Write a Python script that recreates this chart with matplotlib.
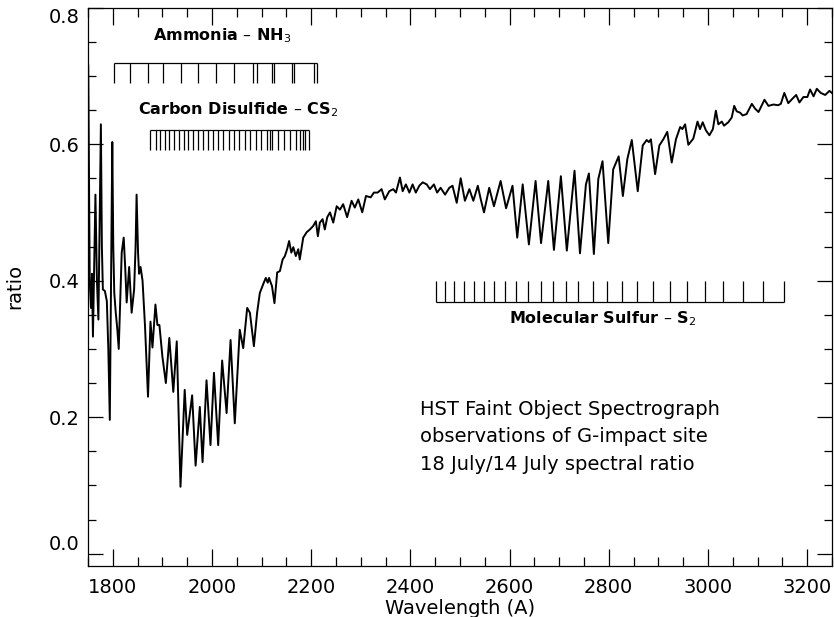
import matplotlib
matplotlib.use("Agg")
import matplotlib.pyplot as plt
from matplotlib.ticker import MultipleLocator

# spectrum: 18 July / 14 July ratio
wavelength = [
    1750.5, 1752, 1753.5, 1756, 1758, 1760, 1762.5, 1765, 1768, 1771, 1773.5, 1776,
    1778, 1780, 1784, 1788, 1791, 1794, 1796.5, 1799, 1801, 1803, 1806, 1809, 1812,
    1815, 1818, 1822, 1825, 1828, 1833, 1838, 1843, 1846, 1848, 1851, 1853, 1856,
    1860, 1865, 1871, 1876, 1880, 1886, 1890, 1894, 1900, 1907, 1914, 1922, 1929,
    1936.5, 1945, 1950, 1960, 1967, 1975.5, 1981, 1989, 1997, 2004, 2012.5, 2020.5,
    2029.5, 2037.5, 2046, 2056, 2063, 2071, 2076.5, 2084.5, 2091, 2096.5, 2104.5,
    2108.5, 2112.5, 2115, 2121, 2126, 2131.5, 2137, 2142.5, 2147, 2151.5, 2155.5,
    2160, 2164, 2169, 2174, 2177, 2184, 2191, 2197.5, 2204, 2209.5, 2213.5, 2217.5,
    2223, 2227.5, 2232.5, 2238, 2244.5, 2251.5, 2258, 2264.5, 2272.5, 2281.5, 2288,
    2295, 2303, 2310.5, 2320, 2326.5, 2334, 2342, 2348.5, 2357.5, 2365.5, 2371,
    2379, 2384.5, 2391, 2398, 2404.5, 2411, 2418, 2425, 2433, 2439.5, 2447.5, 2454,
    2461, 2470, 2478.5, 2485, 2493.5, 2501.5, 2510, 2519, 2527, 2536, 2542, 2548.5,
    2559, 2568.5, 2582, 2593, 2606, 2615.5, 2626.5, 2639, 2652.5, 2663.5, 2678,
    2689.5, 2703.5, 2715.5, 2731, 2742, 2754, 2760, 2770, 2779, 2787.5, 2799, 2809,
    2820, 2828.5, 2837.5, 2846.5, 2858.5, 2868.5, 2876.5, 2881, 2885, 2893.5, 2902,
    2910, 2918, 2927, 2935.5, 2944, 2948.5, 2954, 2960.5, 2970.5, 2979, 2984,
    2989.5, 2996, 3003, 3010, 3016, 3021, 3028, 3032.5, 3041, 3048, 3053, 3058,
    3065, 3070, 3078, 3088.5, 3095, 3102, 3114, 3122, 3132, 3141.5, 3147, 3154,
    3162, 3171, 3178, 3184.5, 3192.5, 3200.5, 3206, 3213, 3219.5, 3227.5, 3236.5,
    3245, 3250,
]
ratio = [
    0.715, 0.55, 0.40, 0.36, 0.41, 0.318, 0.42, 0.526, 0.40, 0.343, 0.48, 0.629,
    0.45, 0.387, 0.385, 0.37, 0.30, 0.196, 0.40, 0.603, 0.45, 0.382, 0.353, 0.33, 0.30,
    0.37, 0.441, 0.463, 0.42, 0.368, 0.42, 0.353, 0.387, 0.45, 0.526, 0.44, 0.41, 0.42,
    0.40, 0.333, 0.23, 0.340, 0.302, 0.365, 0.335, 0.335, 0.289, 0.25, 0.316, 0.237, 0.311,
    0.098, 0.24, 0.174, 0.232, 0.129, 0.215, 0.134, 0.254, 0.159, 0.265, 0.159, 0.283,
    0.206, 0.313, 0.191, 0.328, 0.301, 0.36, 0.353, 0.304, 0.353, 0.382, 0.397,
    0.404, 0.397, 0.404, 0.392, 0.367, 0.412, 0.414, 0.431, 0.436, 0.446, 0.458,
    0.441, 0.449, 0.436, 0.446, 0.431, 0.463, 0.471, 0.475, 0.480, 0.487, 0.465, 0.485,
    0.49, 0.475, 0.493, 0.50, 0.485, 0.509, 0.504, 0.512, 0.493, 0.517, 0.507,
    0.519, 0.50, 0.524, 0.522, 0.529, 0.529, 0.534, 0.519, 0.531, 0.534, 0.529,
    0.551, 0.531, 0.541, 0.529, 0.541, 0.529, 0.539, 0.544, 0.541, 0.534, 0.541, 0.529,
    0.536, 0.526, 0.536, 0.539, 0.514, 0.55, 0.517, 0.534, 0.517, 0.539, 0.519, 0.50,
    0.536, 0.509, 0.546, 0.506, 0.539, 0.463, 0.541, 0.453, 0.546, 0.455, 0.546,
    0.445, 0.553, 0.444, 0.561, 0.44, 0.541, 0.557, 0.439, 0.549, 0.575, 0.455, 0.563,
    0.582, 0.524, 0.578, 0.606, 0.531, 0.598, 0.606, 0.603, 0.607, 0.556, 0.598,
    0.607, 0.618, 0.573, 0.607, 0.625, 0.622, 0.629, 0.599, 0.608, 0.633, 0.622,
    0.632, 0.620, 0.613, 0.622, 0.649, 0.629, 0.633, 0.627, 0.632, 0.639, 0.656, 0.648,
    0.646, 0.642, 0.644, 0.659, 0.652, 0.647, 0.665, 0.656, 0.658, 0.657, 0.659, 0.675,
    0.66, 0.667, 0.672, 0.661, 0.669, 0.669, 0.68, 0.670, 0.681, 0.675, 0.672,
    0.678, 0.675,
]

# band line positions (Angstrom)
nh3_lines = [1802.7, 1835.7, 1870, 1901.5, 1936.6, 1970.9, 2007.8, 2044, 2081.8, 2090,
             2120.8, 2125, 2161, 2165.8, 2206, 2211.5]
cs2_lines = [1876.0, 1886.8, 1896.2, 1904.9, 1913.7, 1923.7, 1933.2, 1942.6, 1952.0,
             1962.1, 1971.5, 1981.6, 1991.7, 2001.8, 2011.8, 2022.6, 2033.4, 2044.1,
             2054.9, 2065.6, 2076.4, 2087.8, 2098.6, 2110.0, 2116.7, 2120.1, 2133.5,
             2145.0, 2157.1, 2169.2, 2177.3, 2182.6, 2188.0, 2195.4]
s2_lines = [2451.6, 2469.8, 2488.5, 2508.1, 2528.3, 2548.4, 2568.6, 2590.8, 2613.0,
            2637.8, 2662.8, 2687.0, 2713.3, 2738.7, 2767.7, 2796.0, 2826.2, 2857.7,
            2890.0, 2923.7, 2958.6, 2994.3, 3031.2, 3070.3, 3111.9, 3153.6]

note_lines = ["HST Faint Object Spectrograph",
              "observations of G-impact site",
              "18 July/14 July spectral ratio"]

y_ticks = [0.0, 0.2, 0.4, 0.6, 0.8]

plt.rcParams["font.family"] = ["DejaVu Sans"]

fig = plt.figure(figsize=(8.34, 6.17), dpi=100)
ax = fig.add_axes([0.1055, 0.0827, 0.892, 0.905])

ax.plot(wavelength, ratio, color="black", linewidth=1.4)

lw_bar = 0.9
# Ammonia
ax.hlines(0.719, nh3_lines[0], nh3_lines[-1], color="black", lw=lw_bar)
ax.vlines(nh3_lines, 0.690, 0.719, color="black", lw=lw_bar)
ax.text(2021, 0.759, "Ammonia – NH$_3$", ha="center", va="center",
        fontsize=11.5, fontweight="bold")
# Carbon disulfide
ax.hlines(0.621, cs2_lines[0], cs2_lines[-1], color="black", lw=lw_bar)
ax.vlines(cs2_lines, 0.591, 0.621, color="black", lw=lw_bar)
ax.text(2052, 0.650, "Carbon Disulfide – CS$_2$", ha="center", va="center",
        fontsize=11.5, fontweight="bold")
# Molecular sulfur
ax.hlines(0.369, s2_lines[0], s2_lines[-1], color="black", lw=lw_bar)
ax.vlines(s2_lines, 0.369, 0.400, color="black", lw=lw_bar)
ax.text(2787, 0.345, "Molecular Sulfur – S$_2$", ha="center", va="center",
        fontsize=11.5, fontweight="bold")

for i, line in enumerate(note_lines):
    ax.text(2419, 0.211 - i * 0.040, line, ha="left", va="center", fontsize=14)

ax.set_xlim(1750, 3250)
ax.set_ylim(-0.018, 0.80)
ax.xaxis.set_major_locator(MultipleLocator(200))
ax.xaxis.set_minor_locator(MultipleLocator(50))
ax.set_yticks(y_ticks)
ax.set_yticklabels([f"{v:.1f}" for v in y_ticks])
ax.yaxis.set_minor_locator(MultipleLocator(0.05))
ax.tick_params(which="both", direction="in", top=True, right=True, width=0.9)
ax.tick_params(axis="x", which="major", length=12, pad=9, labelsize=14)
ax.tick_params(axis="x", which="minor", length=6.5)
ax.tick_params(axis="y", which="major", length=11, pad=6, labelsize=14)
ax.tick_params(axis="y", which="minor", length=6)
for sp in ax.spines.values():
    sp.set_linewidth(0.9)

# keep the end labels inside the frame, as in the original
ylabels = ax.get_yticklabels()
ylabels[0].set_verticalalignment("bottom")
ylabels[-1].set_verticalalignment("top")

ax.set_xlabel("Wavelength (A)", fontsize=14, labelpad=1)
ax.set_ylabel("ratio", fontsize=14, labelpad=18)

fig.savefig("out.png", dpi=100)
